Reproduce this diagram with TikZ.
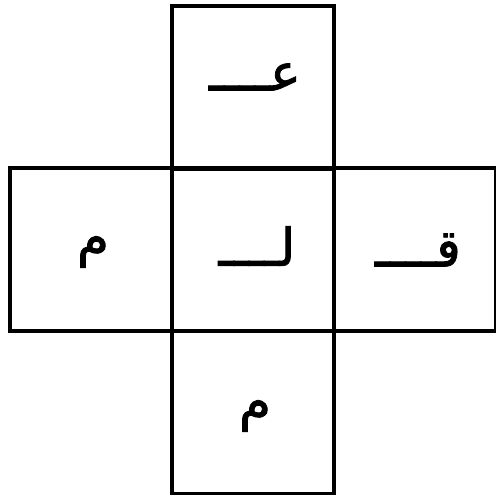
\documentclass[tikz,border=0pt]{standalone}
\usepackage{fontspec}
\newfontfamily\arabicfont[Script=Arabic,FakeBold=1.5]{DejaVu Sans}
\TeXXeTstate=1
\begin{document}
\begin{tikzpicture}[x=1pt,y=-1pt,
  cell/.style={draw=black, line width=3.2pt, minimum width=162pt, minimum height=163pt, inner sep=0pt, outer sep=0pt},
  letter/.style={font=\arabicfont\fontsize{52}{60}\selectfont, inner sep=0pt}]
\useasboundingbox (0,0) rectangle (496,499);
\node[cell] (top) at (253,87.5) {};
\node[cell] (left) at (91,249.5) {};
\node[cell] (mid) at (253,249.5) {};
\node[cell] (right) at (414.5,249.5) {};
\node[cell] (bottom) at (253,412) {};
\node[letter] (ain) at (255,77) {\beginR عــــ\endR};
\node[letter] (meemL) at (93,252) {\beginR م\endR};
\node[letter] (lam) at (257,246) {\beginR لــــ\endR};
\node[letter] (qaf) at (418,250) {\beginR قــــ\endR};
\node[letter] (meemB) at (255,416) {\beginR م\endR};
\end{tikzpicture}
\end{document}
